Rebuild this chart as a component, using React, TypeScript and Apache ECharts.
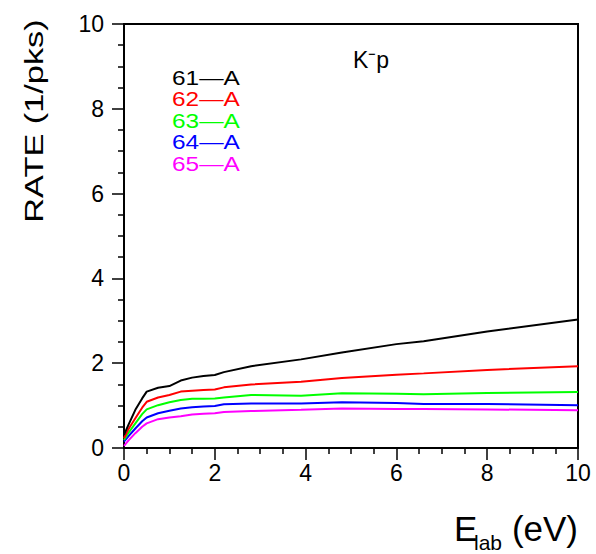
import React, { useEffect, useRef } from "react";
import * as echarts from "echarts";

// Beam energy sampling points (eV)
const energies = [0, 0.1, 0.25, 0.4, 0.5, 0.75, 1, 1.25, 1.5, 1.75, 2, 2.2, 2.8, 3.9, 4.8, 6, 6.6, 8, 10];

// Rates (1/pks) for each target configuration
const rate61A = [0.31, 0.55, 0.9, 1.17, 1.33, 1.42, 1.46, 1.59, 1.66, 1.7, 1.72, 1.79, 1.93, 2.09, 2.25, 2.45, 2.52, 2.75, 3.03];
const rate62A = [0.23, 0.45, 0.7, 0.95, 1.09, 1.19, 1.25, 1.33, 1.35, 1.37, 1.38, 1.43, 1.5, 1.56, 1.65, 1.73, 1.76, 1.84, 1.93];
const rate63A = [0.19, 0.36, 0.58, 0.8, 0.91, 1.01, 1.08, 1.13, 1.16, 1.16, 1.17, 1.19, 1.25, 1.23, 1.29, 1.28, 1.27, 1.3, 1.32];
const rate64A = [0.15, 0.28, 0.46, 0.63, 0.72, 0.82, 0.88, 0.93, 0.96, 0.98, 0.99, 1.03, 1.05, 1.05, 1.08, 1.06, 1.04, 1.04, 1.01];
const rate65A = [0.05, 0.18, 0.35, 0.5, 0.58, 0.68, 0.72, 0.75, 0.79, 0.81, 0.82, 0.85, 0.87, 0.9, 0.93, 0.92, 0.92, 0.91, 0.89];

const seriesNames = ["61—A", "62—A", "63—A", "64—A", "65—A"];
const seriesColors = ["#000000", "#ff0000", "#00ff00", "#0000ff", "#ff00ff"];
const seriesRates = [rate61A, rate62A, rate63A, rate64A, rate65A];

const FONT = "'Liberation Sans', Arial, Helvetica, sans-serif";

export default function App() {
  const ref = useRef<HTMLDivElement>(null);

  useEffect(() => {
    if (!ref.current) return;
    const chart = echarts.init(ref.current, undefined, { renderer: "svg" });

    const axisCommon = {
      type: "value" as const,
      min: 0,
      max: 10,
      interval: 2,
      axisLine: { show: true, onZero: false, lineStyle: { color: "#000", width: 2 } },
      axisTick: { show: true, inside: false, length: 12, lineStyle: { color: "#000", width: 1.5 } },
      minorTick: { show: true, splitNumber: 4, length: 6, lineStyle: { color: "#000", width: 1.5 } },
      splitLine: { show: false },
      axisLabel: { color: "#000", fontSize: 23, fontFamily: FONT },
    };

    // Legend labels stacked in the upper-left of the frame
    const legendTexts = seriesNames.map((name, i) => ({
      type: "text",
      x: 172,
      y: 78 + i * 21.5,
      scaleX: 1.22,
      style: {
        text: name,
        fill: seriesColors[i],
        font: `20px ${FONT}`,
        textAlign: "left",
        textVerticalAlign: "middle",
      },
    }));

    chart.setOption({
      animation: false,
      backgroundColor: "#fff",
      grid: {
        left: 124,
        top: 24,
        right: 18,
        bottom: 106,
        show: true,
        borderColor: "#000",
        borderWidth: 2,
        backgroundColor: "transparent",
      },
      xAxis: { ...axisCommon, axisLabel: { ...axisCommon.axisLabel, margin: 13 } },
      yAxis: { ...axisCommon, axisLabel: { ...axisCommon.axisLabel, margin: 20 } },
      series: seriesRates.map((rates, i) => ({
        name: seriesNames[i],
        type: "line",
        data: energies.map((e, j) => [e, rates[j]]),
        showSymbol: false,
        smooth: false,
        lineStyle: { color: seriesColors[i], width: 2 },
        itemStyle: { color: seriesColors[i] },
        z: 10 - i,
      })),
      graphic: [
        ...legendTexts,
        {
          type: "text",
          x: 353,
          y: 60,
          style: {
            text: "K⁻p",
            fill: "#000",
            font: `23px ${FONT}`,
            textAlign: "left",
            textVerticalAlign: "middle",
          },
        },
        {
          type: "text",
          x: 34,
          y: 121,
          rotation: Math.PI / 2,
          scaleX: 1.32,
          style: {
            text: "RATE (1/pks)",
            fill: "#000",
            font: `26px ${FONT}`,
            textAlign: "center",
            textVerticalAlign: "middle",
          },
        },
        {
          type: "text",
          x: 454,
          y: 546,
          style: {
            text: "E",
            fill: "#000",
            font: `35px ${FONT}`,
            textAlign: "left",
            textVerticalAlign: "bottom",
          },
        },
        {
          type: "text",
          x: 474,
          y: 553,
          style: {
            text: "lab",
            fill: "#000",
            font: `21px ${FONT}`,
            textAlign: "left",
            textVerticalAlign: "bottom",
          },
        },
        {
          type: "text",
          x: 578,
          y: 546,
          style: {
            text: "(eV)",
            fill: "#000",
            font: `35px ${FONT}`,
            textAlign: "right",
            textVerticalAlign: "bottom",
          },
        },
      ],
    });

    return () => chart.dispose();
  }, []);

  return (
    <div
      ref={ref}
      style={{ position: "fixed", left: 0, top: 0, width: 596, height: 554, background: "#fff" }}
    />
  );
}
